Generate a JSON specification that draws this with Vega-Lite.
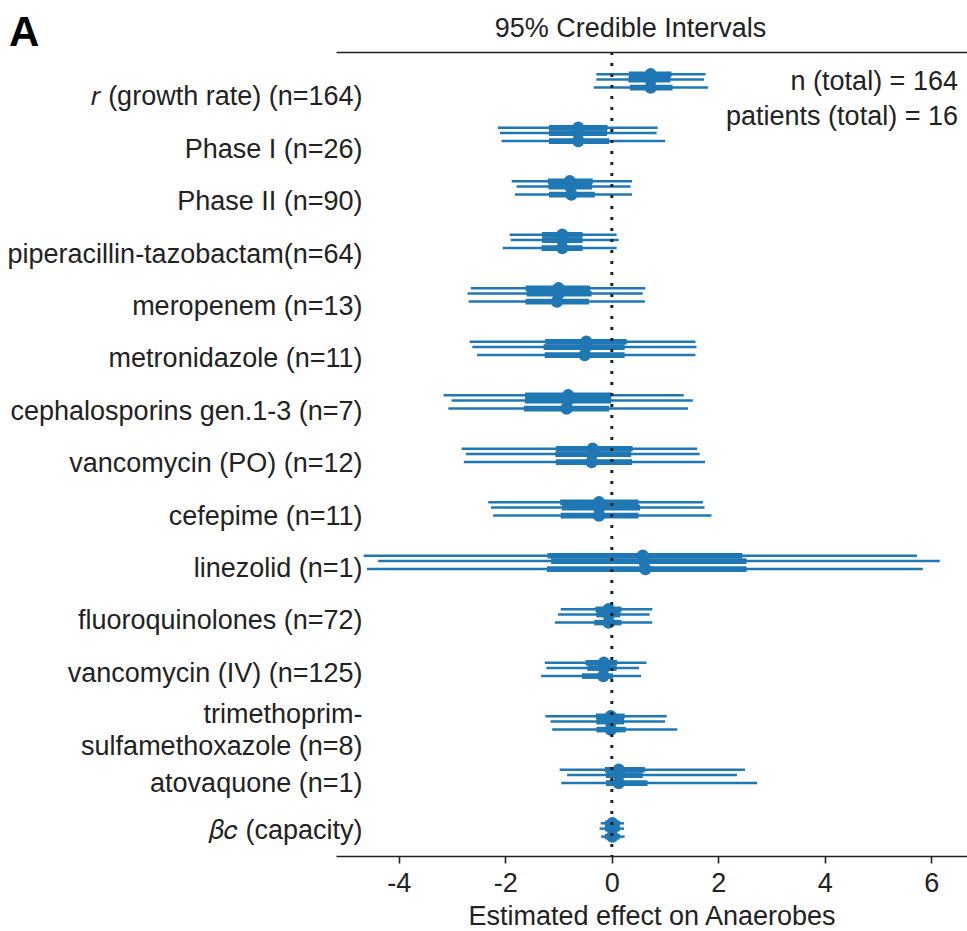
{
  "$schema": "https://vega.github.io/schema/vega-lite/v6.json",
  "width": 631,
  "height": 804,
  "autosize": {"type": "none"},
  "padding": {"left": 336, "top": 52, "right": 0, "bottom": 75},
  "background": "white",
  "config": {"font": "Liberation Sans", "view": {"stroke": null}},
  "title": {"text": "A", "anchor": "start", "frame": "group", "fontSize": 42, "fontWeight": "bold", "color": "#000", "dx": -327, "dy": 45},
  "data": {"values": [
    {"row": 0, "chain": 1, "lo": -0.29, "hi": 1.76, "q1": 0.32, "q3": 1.12, "med": 0.73},
    {"row": 0, "chain": 2, "lo": -0.29, "hi": 1.73, "q1": 0.31, "q3": 1.10, "med": 0.73},
    {"row": 0, "chain": 3, "lo": -0.34, "hi": 1.81, "q1": 0.34, "q3": 1.14, "med": 0.73},
    {"row": 1, "chain": 1, "lo": -2.14, "hi": 0.86, "q1": -1.18, "q3": -0.08, "med": -0.63},
    {"row": 1, "chain": 2, "lo": -2.10, "hi": 0.84, "q1": -1.18, "q3": -0.09, "med": -0.63},
    {"row": 1, "chain": 3, "lo": -2.07, "hi": 1.00, "q1": -1.18, "q3": -0.05, "med": -0.63},
    {"row": 2, "chain": 1, "lo": -1.88, "hi": 0.38, "q1": -1.20, "q3": -0.36, "med": -0.79},
    {"row": 2, "chain": 2, "lo": -1.79, "hi": 0.35, "q1": -1.19, "q3": -0.37, "med": -0.78},
    {"row": 2, "chain": 3, "lo": -1.82, "hi": 0.38, "q1": -1.18, "q3": -0.32, "med": -0.76},
    {"row": 3, "chain": 1, "lo": -1.92, "hi": 0.09, "q1": -1.31, "q3": -0.55, "med": -0.93},
    {"row": 3, "chain": 2, "lo": -1.90, "hi": 0.13, "q1": -1.31, "q3": -0.55, "med": -0.93},
    {"row": 3, "chain": 3, "lo": -2.05, "hi": 0.09, "q1": -1.32, "q3": -0.55, "med": -0.93},
    {"row": 4, "chain": 1, "lo": -2.65, "hi": 0.63, "q1": -1.62, "q3": -0.41, "med": -1.00},
    {"row": 4, "chain": 2, "lo": -2.71, "hi": 0.58, "q1": -1.60, "q3": -0.38, "med": -1.00},
    {"row": 4, "chain": 3, "lo": -2.69, "hi": 0.62, "q1": -1.62, "q3": -0.43, "med": -1.03},
    {"row": 5, "chain": 1, "lo": -2.67, "hi": 1.57, "q1": -1.25, "q3": 0.28, "med": -0.48},
    {"row": 5, "chain": 2, "lo": -2.62, "hi": 1.59, "q1": -1.28, "q3": 0.24, "med": -0.49},
    {"row": 5, "chain": 3, "lo": -2.53, "hi": 1.57, "q1": -1.26, "q3": 0.24, "med": -0.51},
    {"row": 6, "chain": 1, "lo": -3.16, "hi": 1.35, "q1": -1.63, "q3": -0.01, "med": -0.82},
    {"row": 6, "chain": 2, "lo": -3.01, "hi": 1.52, "q1": -1.63, "q3": -0.01, "med": -0.83},
    {"row": 6, "chain": 3, "lo": -3.07, "hi": 1.43, "q1": -1.65, "q3": -0.05, "med": -0.85},
    {"row": 7, "chain": 1, "lo": -2.82, "hi": 1.60, "q1": -1.05, "q3": 0.39, "med": -0.36},
    {"row": 7, "chain": 2, "lo": -2.74, "hi": 1.65, "q1": -1.06, "q3": 0.36, "med": -0.37},
    {"row": 7, "chain": 3, "lo": -2.78, "hi": 1.75, "q1": -1.05, "q3": 0.38, "med": -0.38},
    {"row": 8, "chain": 1, "lo": -2.32, "hi": 1.71, "q1": -0.97, "q3": 0.50, "med": -0.24},
    {"row": 8, "chain": 2, "lo": -2.27, "hi": 1.74, "q1": -0.94, "q3": 0.53, "med": -0.24},
    {"row": 8, "chain": 3, "lo": -2.23, "hi": 1.87, "q1": -0.96, "q3": 0.50, "med": -0.24},
    {"row": 9, "chain": 1, "lo": -4.66, "hi": 5.73, "q1": -1.21, "q3": 2.45, "med": 0.58},
    {"row": 9, "chain": 2, "lo": -4.39, "hi": 6.16, "q1": -1.14, "q3": 2.53, "med": 0.60},
    {"row": 9, "chain": 3, "lo": -4.60, "hi": 5.84, "q1": -1.22, "q3": 2.53, "med": 0.63},
    {"row": 10, "chain": 1, "lo": -0.96, "hi": 0.76, "q1": -0.31, "q3": 0.18, "med": -0.06},
    {"row": 10, "chain": 2, "lo": -1.01, "hi": 0.71, "q1": -0.29, "q3": 0.16, "med": -0.06},
    {"row": 10, "chain": 3, "lo": -1.07, "hi": 0.76, "q1": -0.33, "q3": 0.18, "med": -0.06},
    {"row": 11, "chain": 1, "lo": -1.26, "hi": 0.65, "q1": -0.49, "q3": 0.10, "med": -0.15},
    {"row": 11, "chain": 2, "lo": -1.23, "hi": 0.51, "q1": -0.46, "q3": 0.09, "med": -0.15},
    {"row": 11, "chain": 3, "lo": -1.33, "hi": 0.55, "q1": -0.56, "q3": 0.02, "med": -0.16},
    {"row": 12, "chain": 1, "lo": -1.25, "hi": 1.03, "q1": -0.30, "q3": 0.24, "med": -0.02},
    {"row": 12, "chain": 2, "lo": -1.15, "hi": 1.00, "q1": -0.29, "q3": 0.23, "med": -0.02},
    {"row": 12, "chain": 3, "lo": -1.12, "hi": 1.23, "q1": -0.29, "q3": 0.26, "med": -0.02},
    {"row": 13, "chain": 1, "lo": -0.98, "hi": 2.50, "q1": -0.13, "q3": 0.62, "med": 0.13},
    {"row": 13, "chain": 2, "lo": -0.84, "hi": 2.35, "q1": -0.11, "q3": 0.58, "med": 0.13},
    {"row": 13, "chain": 3, "lo": -0.95, "hi": 2.73, "q1": -0.11, "q3": 0.67, "med": 0.13},
    {"row": 14, "chain": 1, "lo": -0.21, "hi": 0.23, "q1": -0.13, "q3": 0.15, "med": 0.01},
    {"row": 14, "chain": 2, "lo": -0.23, "hi": 0.23, "q1": -0.13, "q3": 0.15, "med": 0.01},
    {"row": 14, "chain": 3, "lo": -0.20, "hi": 0.24, "q1": -0.13, "q3": 0.15, "med": 0.01}
  ]},
  "resolve": {"axis": {"x": "independent"}},
  "layer": [
    {
      "transform": [{"filter": "datum.chain == 1"}],
      "mark": {"type": "rule", "color": "#1f77b4", "strokeWidth": 2.5},
      "encoding": {
        "x": {"field": "lo", "type": "quantitative",
              "scale": {"domain": [-5.18, 6.67], "nice": false, "zero": false},
              "axis": {"orient": "bottom", "values": [-4, -2, 0, 2, 4, 6], "grid": false,
                       "labelExpr": "datum.value < 0 ? '-' + abs(datum.value) : '' + datum.value",
                       "domainColor": "#222", "domainWidth": 1.6, "tickColor": "#222", "tickWidth": 1.6, "tickSize": 7,
                       "labelFontSize": 27, "labelColor": "#222", "labelPadding": 7, "labelFlush": false,
                       "title": "Estimated effect on Anaerobes", "titleFontSize": 27, "titleFontWeight": "normal", "titleColor": "#222", "titlePadding": 7}},
        "x2": {"field": "hi"},
        "y": {"field": "row", "type": "quantitative", "title": null,
              "scale": {"domain": [-0.417, 14.611], "reverse": true, "nice": false, "zero": false},
              "axis": {"orient": "left", "grid": false, "domain": false, "ticks": false,
                       "labelPadding": -26, "labelFontSize": 27, "labelColor": "#222", "labelOverlap": false, "labelLimit": 500,
                       "labelLineHeight": 32,
                       "values": [0.424, 1.404, 2.383, 3.362, 4.342, 5.321, 6.301, 7.280, 8.259, 9.239, 10.218, 11.198, 11.957, 13.247, 14.136],
                       "labelExpr": "datum.value < 0.9 ? '𝑟 (growth rate) (n=164)' : datum.value < 1.9 ? 'Phase I (n=26)' : datum.value < 2.9 ? 'Phase II (n=90)' : datum.value < 3.9 ? 'piperacillin-tazobactam(n=64)' : datum.value < 4.9 ? 'meropenem (n=13)' : datum.value < 5.9 ? 'metronidazole (n=11)' : datum.value < 6.9 ? 'cephalosporins gen.1-3 (n=7)' : datum.value < 7.9 ? 'vancomycin (PO) (n=12)' : datum.value < 8.9 ? 'cefepime (n=11)' : datum.value < 9.9 ? 'linezolid (n=1)' : datum.value < 10.9 ? 'fluoroquinolones (n=72)' : datum.value < 11.9 ? 'vancomycin (IV) (n=125)' : datum.value < 12.9 ? ['trimethoprim-', 'sulfamethoxazole (n=8)'] : datum.value < 13.9 ? 'atovaquone (n=1)' : '𝛽𝑐 (capacity)'"}}
      }
    },
    {
      "transform": [{"filter": "datum.chain == 2"}],
      "mark": {"type": "rule", "color": "#1f77b4", "strokeWidth": 2.5, "yOffset": 5.3},
      "encoding": {
        "x": {"field": "lo", "type": "quantitative", "axis": null},
        "x2": {"field": "hi"},
        "y": {"field": "row", "type": "quantitative", "title": null}
      }
    },
    {
      "transform": [{"filter": "datum.chain == 3"}],
      "mark": {"type": "rule", "color": "#1f77b4", "strokeWidth": 2.5, "yOffset": 13.3},
      "encoding": {
        "x": {"field": "lo", "type": "quantitative", "axis": null},
        "x2": {"field": "hi"},
        "y": {"field": "row", "type": "quantitative", "title": null}
      }
    },
    {
      "transform": [{"filter": "datum.chain == 1"}],
      "mark": {"type": "rule", "color": "#1f77b4", "strokeWidth": 5.6},
      "encoding": {
        "x": {"field": "q1", "type": "quantitative", "axis": null},
        "x2": {"field": "q3"},
        "y": {"field": "row", "type": "quantitative", "title": null}
      }
    },
    {
      "transform": [{"filter": "datum.chain == 2"}],
      "mark": {"type": "rule", "color": "#1f77b4", "strokeWidth": 5.6, "yOffset": 5.3},
      "encoding": {
        "x": {"field": "q1", "type": "quantitative", "axis": null},
        "x2": {"field": "q3"},
        "y": {"field": "row", "type": "quantitative", "title": null}
      }
    },
    {
      "transform": [{"filter": "datum.chain == 3"}],
      "mark": {"type": "rule", "color": "#1f77b4", "strokeWidth": 5.6, "yOffset": 13.3},
      "encoding": {
        "x": {"field": "q1", "type": "quantitative", "axis": null},
        "x2": {"field": "q3"},
        "y": {"field": "row", "type": "quantitative", "title": null}
      }
    },
    {
      "transform": [{"filter": "datum.chain == 1"}],
      "mark": {"type": "point", "shape": "circle", "filled": true, "color": "#1f77b4", "opacity": 1, "size": 155},
      "encoding": {
        "x": {"field": "med", "type": "quantitative", "axis": null},
        "y": {"field": "row", "type": "quantitative", "title": null}
      }
    },
    {
      "transform": [{"filter": "datum.chain == 2"}],
      "mark": {"type": "point", "shape": "circle", "filled": true, "color": "#1f77b4", "opacity": 1, "size": 155, "yOffset": 5.3},
      "encoding": {
        "x": {"field": "med", "type": "quantitative", "axis": null},
        "y": {"field": "row", "type": "quantitative", "title": null}
      }
    },
    {
      "transform": [{"filter": "datum.chain == 3"}],
      "mark": {"type": "point", "shape": "circle", "filled": true, "color": "#1f77b4", "opacity": 1, "size": 155, "yOffset": 13.3},
      "encoding": {
        "x": {"field": "med", "type": "quantitative", "axis": null},
        "y": {"field": "row", "type": "quantitative", "title": null}
      }
    },
    {
      "data": {"values": [{}]},
      "mark": {"type": "rule", "color": "#222", "strokeWidth": 3, "strokeDash": [3, 8]},
      "encoding": {
        "x": {"datum": 0, "type": "quantitative",
              "axis": {"orient": "top", "labels": false, "ticks": false, "grid": false, "domainColor": "#222", "domainWidth": 1.6,
                       "title": "95% Credible Intervals", "titleFontSize": 27, "titleFontWeight": "normal", "titleColor": "#222",
                       "titleX": 294, "titleAlign": "center", "titlePadding": 10}}
      }
    },
    {
      "data": {"values": [{}]},
      "mark": {"type": "text", "text": ["n (total) = 164", "patients (total) = 16"], "align": "right", "baseline": "alphabetic",
               "fontSize": 27, "lineHeight": 35, "color": "#222"},
      "encoding": {
        "x": {"datum": 6.5, "type": "quantitative", "axis": null},
        "y": {"datum": 0.293, "type": "quantitative", "title": null}
      }
    }
  ]
}
